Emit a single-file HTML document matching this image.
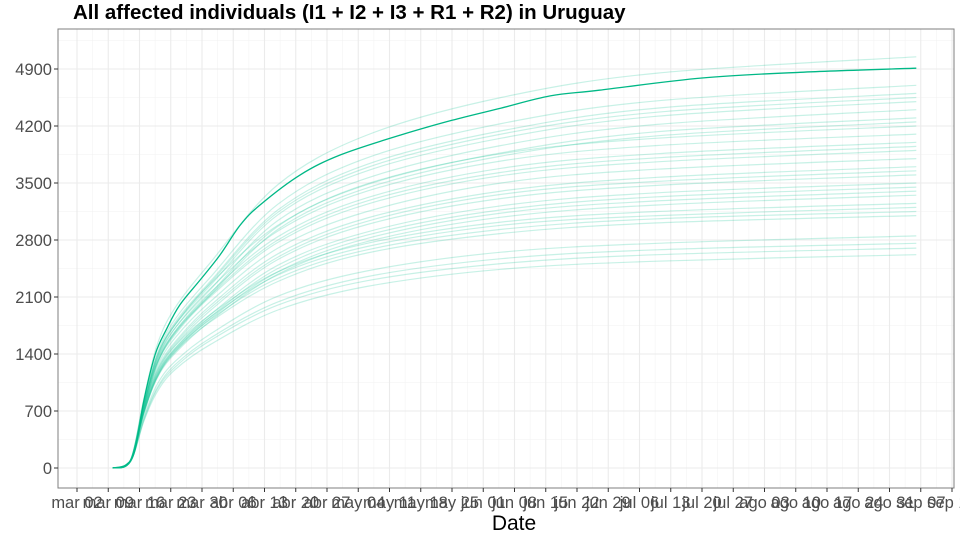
<!DOCTYPE html>
<html><head><meta charset="utf-8">
<style>
html,body{margin:0;padding:0;background:#fff;width:960px;height:540px;overflow:hidden}
svg{display:block;font-family:"Liberation Sans",sans-serif}
</style></head>
<body>
<svg id="chart" width="960" height="540">
<text x="73" y="19" font-size="20.5" font-weight="bold" fill="#000">All affected individuals (I1 + I2 + I3 + R1 + R2) in  Uruguay</text>
<rect x="58" y="29" width="896" height="459" fill="#fff"/>
<g id="grid"></g>
<g id="ens"></g>
<g id="main"></g>
<rect x="58" y="29" width="896" height="459" fill="none" stroke="#7f7f7f" stroke-width="1"/>
<g id="yaxis"></g>
<g id="xaxis"></g>
<text x="514" y="530" font-size="21" text-anchor="middle" fill="#000">Date</text>
</svg>
<script>
const days = [8,12,15,18,22,30,45,65,95,130,188];
const mainDays = [8,11,13,15,17.5,20,23,27.6,32,36.6,41,50,59,72.5,84,95,106,117,140,162,188];
const mainValues = [0,40,220,835,1390,1700,2000,2310,2615,2985,3230,3600,3845,4090,4270,4420,4570,4640,4790,4860,4910];
const ensemble = [
[0,80,580,940,1210,1520,1940,2230,2440,2540,2620],
[0,80,590,970,1240,1570,2000,2300,2510,2620,2700],
[0,80,610,990,1270,1600,2040,2350,2570,2680,2760],
[0,85,630,1030,1310,1650,2110,2420,2650,2760,2850],
[0,90,680,1120,1430,1800,2290,2640,2880,3010,3100],
[0,95,690,1130,1450,1830,2330,2680,2930,3060,3150],
[0,95,700,1150,1470,1860,2370,2720,2980,3100,3200],
[0,100,720,1170,1500,1890,2410,2760,3020,3150,3250],
[0,85,670,1110,1410,1810,2380,2780,3080,3230,3350],
[0,85,680,1120,1430,1840,2410,2820,3130,3280,3400],
[0,85,690,1140,1450,1860,2450,2860,3170,3330,3450],
[0,90,700,1160,1470,1890,2490,2900,3220,3380,3500],
[0,90,720,1190,1510,1940,2560,2990,3310,3470,3600],
[0,90,730,1200,1530,1970,2590,3030,3360,3520,3650],
[0,90,740,1220,1550,2000,2630,3070,3400,3570,3700],
[0,95,760,1250,1600,2050,2700,3150,3500,3670,3800],
[0,95,780,1290,1640,2110,2770,3240,3590,3760,3900],
[0,100,790,1300,1660,2130,2800,3280,3630,3810,3950],
[0,100,800,1320,1680,2160,2840,3320,3680,3860,4000],
[0,100,820,1350,1720,2210,2910,3400,3770,3960,4100],
[0,100,840,1390,1760,2270,2980,3490,3860,4050,4200],
[0,85,720,1280,1660,2130,2930,3440,3830,4080,4250],
[0,85,730,1290,1680,2150,2970,3480,3870,4130,4300],
[0,90,750,1320,1720,2200,3040,3560,3960,4220,4400],
[0,90,770,1350,1760,2250,3110,3650,4050,4320,4500],
[0,90,770,1370,1770,2280,3140,3690,4100,4370,4550],
[0,90,780,1380,1790,2300,3170,3730,4140,4420,4600],
[0,95,800,1410,1830,2350,3240,3810,4230,4510,4700],
[0,100,860,1520,1970,2530,3480,4090,4550,4850,5050]
];
const yTicks = [0,700,1400,2100,2800,3500,4200,4900];
const xTickLabels = ["mar 02","mar 09","mar 16","mar 23","mar 30","abr 06","abr 13","abr 20","abr 27","may 04","may 11","may 18","may 25","jun 01","jun 08","jun 15","jun 22","jun 29","jul 06","jul 13","jul 20","jul 27","ago 03","ago 10","ago 17","ago 24","ago 31","sep 07","sep 14"];

const NS="http://www.w3.org/2000/svg";
const X = d => 77 + d*(31.25/7);
const Y = v => 468 - v*(399/4900);
function mk(tag, attrs, parent){const e=document.createElementNS(NS,tag);for(const k in attrs)e.setAttribute(k,attrs[k]);parent.appendChild(e);return e;}
function smooth(pts){
  let d="M"+pts[0][0].toFixed(1)+","+pts[0][1].toFixed(1);
  for(let i=0;i<pts.length-1;i++){
    const p0=pts[Math.max(0,i-1)],p1=pts[i],p2=pts[i+1],p3=pts[Math.min(pts.length-1,i+2)];
    const c1=[p1[0]+(p2[0]-p0[0])/6,p1[1]+(p2[1]-p0[1])/6];
    const c2=[p2[0]-(p3[0]-p1[0])/6,p2[1]-(p3[1]-p1[1])/6];
    d+=" C"+c1[0].toFixed(1)+","+c1[1].toFixed(1)+" "+c2[0].toFixed(1)+","+c2[1].toFixed(1)+" "+p2[0].toFixed(1)+","+p2[1].toFixed(1);
  }
  return d;
}
const grid=document.getElementById('grid');
for(let i=0;i<yTicks.length;i++){
  const mv=yTicks[i]+350;
  if(Y(mv)>29){
    const l=mk('line',{x1:58,x2:954,y1:Y(mv),y2:Y(mv),stroke:'#f2f2f2','stroke-width':0.6},grid);
    
    
  }
}
for(let i=0;i<xTickLabels.length;i++){
  const mx=X(i*7+3.5);
  if(mx<954){
    const l=mk('line',{x1:mx,x2:mx,y1:29,y2:488,stroke:'#f2f2f2','stroke-width':0.6},grid);
    
    
  }
}
const ya=document.getElementById('yaxis');
yTicks.forEach(v=>{
  const y=Y(v);
  const g=mk('line',{x1:58,x2:954,y1:y,y2:y,stroke:'#ebebeb','stroke-width':1.1},grid);
  
  
  const t=mk('line',{x1:54,x2:58,y1:y,y2:y,stroke:'#333','stroke-width':1},ya);
  
  
  const tx=mk('text',{x:52,y:y+6,'font-size':16.5,'text-anchor':'end',fill:'#4d4d4d'},ya);
  tx.textContent=v;
  
  
});
const xa=document.getElementById('xaxis');
xTickLabels.forEach((lab,i)=>{
  const x=X(i*7);
  const g=mk('line',{x1:x,x2:x,y1:29,y2:488,stroke:'#ebebeb','stroke-width':1.1},grid);
  
  
  const t=mk('line',{x1:x,x2:x,y1:488,y2:492,stroke:'#333','stroke-width':1},xa);
  
  
  const tx=mk('text',{x:x,y:508,'font-size':16.5,'text-anchor':'middle',fill:'#4d4d4d'},xa);
  tx.textContent=lab;
  
  
});
const ens=document.getElementById('ens');
ensemble.forEach(vals=>{
  const p=mk('path',{d:smooth(vals.map((v,i)=>[X(days[i]),Y(v)])),fill:'none',stroke:'#00BF8C','stroke-opacity':0.22,'stroke-width':1.2},ens);
  
  
});
const m=mk('path',{d:smooth(mainValues.map((v,i)=>[X(mainDays[i]),Y(v)])),fill:'none',stroke:'#00B886','stroke-width':1.3},document.getElementById('main'));


</script>
</body></html>
